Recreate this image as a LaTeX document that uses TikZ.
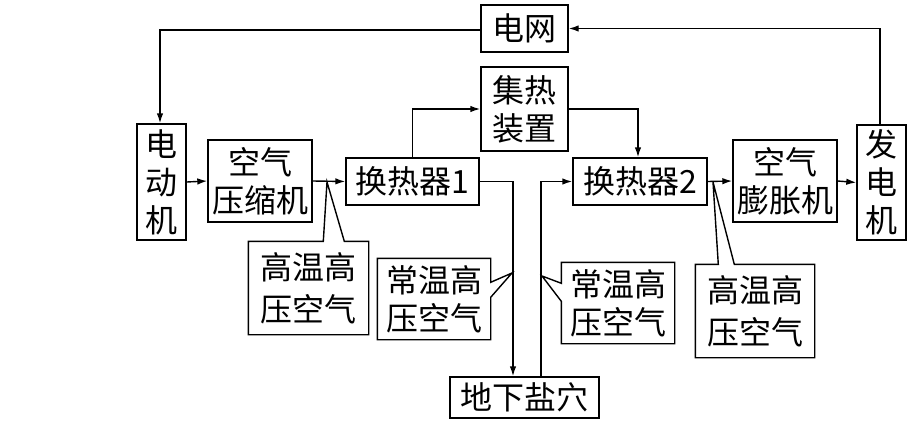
\documentclass[tikz,border=0pt]{standalone}
\usepackage{fontspec}
\newfontfamily\cjk{Noto Sans CJK SC}
\usetikzlibrary{arrows.meta,calc}
\begin{document}
\begin{tikzpicture}[x=1pt,y=-1pt,line width=1.4pt,
  box/.style={draw,rectangle,inner sep=0pt,align=center,font=\cjk\fontsize{32}{38}\selectfont},
  tall/.style={box,font=\cjk\fontsize{32}{42}\selectfont},
  arr/.style={-{Latex[length=10pt,width=6.5pt]}},
  callout/.style={rectangle,inner sep=0pt,align=center}]
\useasboundingbox (0,0) rectangle (911,434);
\node[box,minimum width=87pt,minimum height=47pt] (grid) at (524.5,28.5) {电网};
\node[box,minimum width=49pt,minimum height=116pt] (motor) at (161.5,182) {电\\动\\机};
\node[box,minimum width=104pt,minimum height=82pt] (comp) at (260,181) {空气\\压缩机};
\node[box,minimum width=133pt,minimum height=47pt] (hx1) at (412.5,181.5) {换热器1};
\node[box,minimum width=87pt,minimum height=84pt] (coll) at (524.5,109) {集热\\装置};
\node[box,minimum width=134pt,minimum height=47pt] (hx2) at (640,181.5) {换热器2};
\node[box,minimum width=104pt,minimum height=82pt] (exp) at (785,181) {空气\\膨胀机};
\node[box,minimum width=49pt,minimum height=115pt] (gen) at (881.5,182.5) {发\\电\\机};
\node[box,minimum width=149pt,minimum height=41pt] (cave) at (524.5,397.5) {地下盐穴};
% callouts
\node[tall,draw=none,minimum width=119pt,minimum height=92pt] (c1) at (308.5,288) {高温高\\压空气};
\node[box,draw=none,minimum width=112pt,minimum height=80pt] (c2) at (434,299) {常温高\\压空气};
\node[box,draw=none,minimum width=112pt,minimum height=80pt] (c3) at (618,303) {常温高\\压空气};
\node[tall,draw=none,minimum width=118pt,minimum height=92pt] (c4) at (755,311) {高温高\\压空气};
\coordinate (t1) at (327,182);
\coordinate (t2) at (512,273);
\coordinate (t3) at (542,276);
\coordinate (t4) at (713,182);
\draw[line join=miter] (c1.north west) -- ($(c1.north west)+(75,0)$) -- (t1) -- ($(c1.north west)+(96,0)$) -- (c1.north east) -- (c1.south east) -- (c1.south west) -- cycle;
\draw[line join=miter] (c2.north west) -- (c2.north east) -- ($(c2.north east)+(0,24)$) -- (t2) -- ($(c2.north east)+(0,39)$) -- (c2.south east) -- (c2.south west) -- cycle;
\draw[line join=miter] (c3.north west) -- (c3.north east) -- (c3.south east) -- (c3.south west) -- ($(c3.north west)+(0,39)$) -- (t3) -- ($(c3.north west)+(0,21)$) -- cycle;
\draw[line join=miter] (c4.north west) -- ($(c4.north west)+(23,0)$) -- (t4) -- ($(c4.north west)+(39,0)$) -- (c4.north east) -- (c4.south east) -- (c4.south west) -- cycle;
% connectors
\draw[arr] ([yshift=-1.5]grid.west) -| ([xshift=-1.5]motor.north);
\draw[arr] ([xshift=-1.5]gen.north) |- (grid.east);
\draw[arr] (motor.east) -- (comp.west);
\draw[arr] (comp.east) -- (hx1.west);
\draw[arr] (hx1.north) |- (coll.west);
\draw[arr] (coll.east) -| ([xshift=-2]hx2.north);
\draw[arr] (hx2.east) -- (exp.west);
\draw[arr] (exp.east) -- (gen.west);
\draw[arr] (hx1.east) -| ([xshift=-11.5]cave.north);
\draw[arr] ([xshift=16.5]cave.north) |- (hx2.west);
\end{tikzpicture}
\end{document}
